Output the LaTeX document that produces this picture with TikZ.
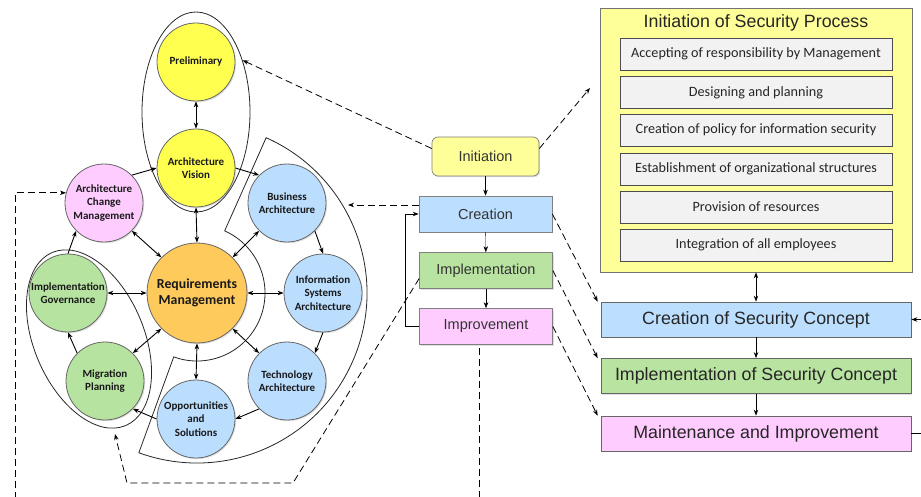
\documentclass[tikz,border=0pt]{standalone}
\usepackage{fontspec}
\setmainfont{Liberation Sans}
\newfontfamily\carlito{Carlito}
\usepackage{tikz}
\usetikzlibrary{calc, positioning, arrows.meta, shapes.geometric, shadows}
\tikzset{>={Stealth[length=6pt,width=4.5pt]}}
\usepackage{xcolor}
\definecolor{phyellow}{HTML}{FFFF4F}
\definecolor{phpink}{HTML}{FFCCFF}
\definecolor{phblue}{HTML}{BBDEFF}
\definecolor{phgreen}{HTML}{B6E3A0}
\definecolor{phorange}{HTML}{FFCA5C}
\definecolor{bxyellow}{HTML}{FFFF99}
\definecolor{bxblue}{HTML}{BDDFFF}
\definecolor{bxgreen}{HTML}{B8E3A0}
\definecolor{bxpink}{HTML}{FFCCFF}
\definecolor{taskgray}{HTML}{F2F2F2}
\tikzset{
  softshadow/.style={drop shadow={shadow xshift=1.2pt, shadow yshift=-1.2pt, opacity=0.25}},
  phase/.style={circle, draw=black!60, line width=0.8pt, minimum size=78pt, inner sep=0pt,
    align=center, text=black!90, softshadow, font=\carlito\bfseries\fontsize{11}{13.3}\selectfont},
  stagebox/.style={draw=black!50, line width=0.7pt, minimum width=133pt, minimum height=36pt,
    text=black!80, softshadow, font=\fontsize{14.5}{16}\selectfont},
  conceptbox/.style={draw=black!60, line width=0.7pt, minimum width=310pt, minimum height=35pt,
    text=black!85, softshadow, font=\fontsize{17.8}{19}\selectfont},
  taskbox/.style={draw=black!70, fill=taskgray, line width=0.7pt, minimum width=272pt,
    minimum height=32pt, text=black!85, font=\carlito\fontsize{14.2}{15}\selectfont},
  contour/.style={draw=black!85, line width=0.8pt},
  flow/.style={->, line width=0.9pt},
  dasharrow/.style={->, dash pattern=on 7pt off 4pt, line width=0.8pt},
}

\begin{document}
\begin{tikzpicture}[x=1pt, y=-1pt]
	\useasboundingbox (0,0) rectangle (921,497);
	% groups round the phases
	\node[ellipse, contour, minimum width=108pt, minimum height=200pt, inner sep=0pt] (grpvis) at (196,112) {};
	\node[ellipse, contour, rotate=-67, minimum width=188pt, minimum height=110pt, inner sep=0pt] (grpimp) at (89,339) {};
	\coordinate (rmc) at (197,293);
	\draw[contour] ($(rmc)+(-66:68)$) -- ($(rmc)+(-66:170)$) arc[start angle=-66, end angle=110, radius=170]
		-- ($(rmc)+(110:68)$) arc[start angle=110, end angle=-66, radius=68] -- cycle;
	% phases
	\node[phase, fill=phyellow] (prel) at (196,62) {Preliminary};
	\node[phase, fill=phyellow] (av) at (196,168) {Architecture\\Vision};
	\node[phase, fill=phpink] (acm) at (104,203) {Architecture\\Change\\Management};
	\node[phase, fill=phblue] (ba) at (287,203) {Business\\Architecture};
	\node[phase, fill=phorange, minimum size=100pt, font=\carlito\bfseries\fontsize{13.8}{16}\selectfont] (rm) at (rmc) {Requirements\\Management};
	\node[phase, fill=phgreen] (ig) at (68,293) {Implementation\\Governance};
	\node[phase, fill=phblue] (isa) at (323,293) {Information\\Systems\\Architecture};
	\node[phase, fill=phgreen] (mp) at (105,381) {Migration\\Planning};
	\node[phase, fill=phblue] (ta) at (287,381) {Technology\\Architecture};
	\node[phase, fill=phblue] (os) at (196,419) {Opportunities\\and\\Solutions};
	\draw[flow, <->] (prel.-90) -- (av.90);
	\foreach \p/\a/\q/\b in {acm/45/av/180, av/0/ba/135, ba/-45/isa/90, isa/-90/ta/45,
		ta/225/os/0, os/180/mp/-45, mp/135/ig/-90, ig/90/acm/225}
		\draw[flow] (\p.\a) -- (\q.\b);
	\foreach \a/\p/\b in {135/acm/-45, 45/ba/225, 180/ig/0, 0/isa/180, 225/mp/45,
		-45/ta/135, -90/os/90, 90/av/-90}
		\draw[flow, <->] (rm.\a) -- (\p.\b);

	% stages of the security process
	\node[stagebox, fill=bxyellow, rounded corners=6pt, minimum width=107pt, minimum height=39pt] (init) at (485.5,156.5) {Initiation};
	\node[stagebox, fill=bxblue] (crea) at (485.5,214) {Creation};
	\node[stagebox, fill=bxgreen] (impl) at (486,270.5) {Implementation};
	\node[stagebox, fill=bxpink] (impr) at (486,326.5) {Improvement};
	\draw[->] (init) -- (crea);
	\draw[->] (crea) -- (impl);
	\draw[->] (impl) -- (impr);
	\draw[->, line width=0.8pt] (impr.west) -- ++(-14,0) |- (crea.west);

	% initiation details
	\node[draw=black!55, fill=bxyellow, line width=0.7pt, softshadow, minimum width=312pt, minimum height=264pt] (isp) at (756,140) {};
	\node[text=black!85, font=\fontsize{17.8}{19}\selectfont] (isptitle) at (756,23) {Initiation of Security Process};
	\foreach \y/\t [count=\i] in {54/Accepting of responsibility by Management, 92.5/Designing and planning,
		130/Creation of policy for information security, 169/Establishment of organizational structures,
		207/Provision of resources, 245/Integration of all employees}
		\node[taskbox] (task\i) at (756,\y) {\t};

	% security concept
	\node[conceptbox, fill=bxblue] (csc) at (756,319.5) {Creation of Security Concept};
	\node[conceptbox, fill=bxgreen] (isc) at (756,376) {Implementation of Security Concept};
	\node[conceptbox, fill=bxpink] (mi) at (756,433.5) {Maintenance and Improvement};
	\draw[flow, <->] (isp.south) -- (csc.north);
	\draw[flow] (csc) -- (isc);
	\draw[flow] (isc) -- (mi);
	\draw[flow] (mi.east) -- ++(16,0) |- (csc.east);

	% dashed links
	\coordinate (tipisp) at (590,88);
	\coordinate (tipba) at (348,205);
	\coordinate (tipmp) at (115,434);
	\draw[dasharrow] ($(init.west)+(0,-8)$) -- (grpvis.48);
	\draw[dasharrow] ($(init.east)+(0,-8)$) -- (tipisp);
	\draw[dasharrow] ($(crea.west)+(0,-9)$) -- (tipba);
	\draw[dasharrow] (crea.east) -- ($(csc.north west)+(-3,0)$);
	\draw[dasharrow] (impl.east) -- ($(isc.north west)+(-3,0)$);
	\draw[dasharrow] (impr.east) -- ($(mi.north west)+(-3,0)$);
	\draw[dasharrow] ($(impl.west)+(0,8)$) -- (293,483) -- (127,483) -- (tipmp);
	\draw[dash pattern=on 7pt off 4pt, line width=0.8pt] ($(impr.south)+(-7,3)$) -- ++(0,160);
	\draw[dasharrow] (15,510) |- (acm.165);
\end{tikzpicture}
\end{document}
